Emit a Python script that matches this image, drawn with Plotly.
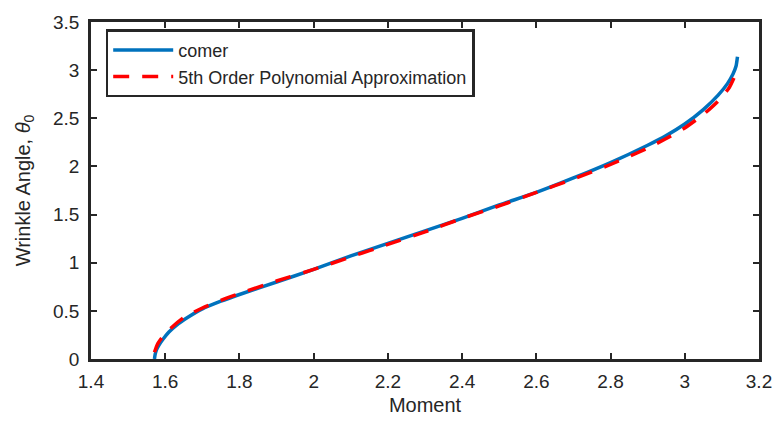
import plotly.graph_objects as go

# Comer wrinkle relation: moment vs wrinkle angle
comer_moment = [1.571, 1.573, 1.577, 1.584, 1.595, 1.610, 1.630, 1.660, 1.700, 1.750,
                1.800, 1.900, 2.000, 2.100, 2.200, 2.300, 2.400, 2.500, 2.600, 2.700,
                2.800, 2.900, 2.950, 3.000, 3.050, 3.090, 3.115, 3.130, 3.138, 3.142]
comer_theta = [0.00, 0.05, 0.10, 0.15, 0.21, 0.28, 0.35, 0.43, 0.52, 0.60,
               0.67, 0.80, 0.93, 1.07, 1.20, 1.33, 1.46, 1.60, 1.73, 1.88,
               2.04, 2.22, 2.32, 2.44, 2.59, 2.74, 2.86, 2.96, 3.04, 3.14]

# Fifth-order polynomial fit of the same relation
poly_moment = [1.571, 1.580, 1.595, 1.615, 1.650, 1.700, 1.750, 1.800, 1.900, 2.000,
               2.100, 2.200, 2.300, 2.400, 2.500, 2.600, 2.700, 2.800, 2.900, 2.950,
               3.000, 3.050, 3.090, 3.120, 3.144]
poly_theta = [0.07, 0.16, 0.24, 0.32, 0.43, 0.53, 0.61, 0.68, 0.81, 0.93,
              1.06, 1.19, 1.32, 1.46, 1.59, 1.73, 1.87, 2.02, 2.19, 2.29,
              2.40, 2.54, 2.68, 2.82, 3.02]

x_ticks = [1.4, 1.6, 1.8, 2.0, 2.2, 2.4, 2.6, 2.8, 3.0, 3.2]
x_tick_text = ["1.4", "1.6", "1.8", "2", "2.2", "2.4", "2.6", "2.8", "3", "3.2"]
y_ticks = [0, 0.5, 1, 1.5, 2, 2.5, 3, 3.5]
y_tick_text = ["0", "0.5", "1", "1.5", "2", "2.5", "3", "3.5"]

AX = "#262626"
FONT = "Liberation Sans, Arial, sans-serif"

fig = go.Figure()
fig.add_trace(go.Scatter(
    x=comer_moment, y=comer_theta, mode="lines", name="comer",
    line=dict(color="#0072BD", width=3.5, shape="spline", smoothing=0.6),
))
fig.add_trace(go.Scatter(
    x=poly_moment, y=poly_theta, mode="lines",
    name="5th Order Polynomial Approximation",
    line=dict(color="#FF0000", width=3.5, dash="16px,13px", shape="spline", smoothing=0.6),
))

axis_common = dict(
    showline=True, linecolor=AX, linewidth=2.5, mirror="ticks",
    ticks="inside", ticklen=6, tickwidth=2, tickcolor=AX,
    showgrid=False, zeroline=False,
    tickfont=dict(family=FONT, size=19, color=AX),
)

fig.update_xaxes(
    range=[1.4, 3.2], tickvals=x_ticks, ticktext=x_tick_text,
    ticklabelstandoff=3,
    title=dict(text="Moment", font=dict(family=FONT, size=20, color=AX), standoff=8),
    **axis_common,
)
fig.update_yaxes(
    range=[0, 3.5], tickvals=y_ticks, ticktext=y_tick_text,
    ticklabelstandoff=5,
    title=dict(text="Wrinkle Angle, <i>θ</i><sub>0</sub>",
               font=dict(family=FONT, size=20, color=AX), standoff=18),
    **axis_common,
)

fig.update_layout(
    width=784, height=426,
    margin=dict(l=91, r=16, t=16, b=64),
    paper_bgcolor="white", plot_bgcolor="white",
    showlegend=True,
    legend=dict(
        x=0.022, y=0.978, xanchor="left", yanchor="top",
        bgcolor="white", bordercolor=AX, borderwidth=2.5,
        font=dict(family=FONT, size=18, color=AX),
        itemwidth=60, tracegroupgap=0,
    ),
)

fig.write_html("out.html")
